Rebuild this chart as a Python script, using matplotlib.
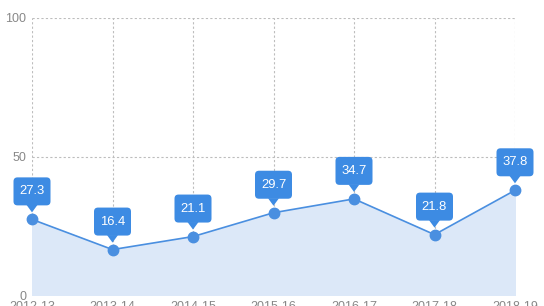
import matplotlib
matplotlib.use('Agg')
import matplotlib.pyplot as plt
from matplotlib.patches import FancyBboxPatch, Polygon
from matplotlib.transforms import ScaledTranslation

plt.rcParams['font.family'] = ['Liberation Sans', 'DejaVu Sans']

# data
years = ['2012-13', '2013-14', '2014-15', '2015-16', '2016-17', '2017-18', '2018-19']
values = [27.3, 16.4, 21.1, 29.7, 34.7, 21.8, 37.8]
y_ticks = [0, 50, 100]

line_color = '#4a8fe0'
box_color = '#3d8be3'
fill_color = '#dce8f8'
grid_color = '#bdbdbd'

fig = plt.figure(figsize=(5.44, 3.06), dpi=100)
ax = fig.add_axes([32/544, 11/306, (515-32)/544, (295-18)/306])

x = list(range(len(years)))
ax.fill_between(x, values, 0, color=fill_color, zorder=1)
ax.plot(x, values, color=line_color, lw=1.2, zorder=3, clip_on=False)
ax.plot(x, values, 'o', color=line_color, ms=7.5, zorder=4, clip_on=False)

# callouts: sizes in pixels (1 px = 0.01 inch at dpi 100)
bw, bh, gap, tip = 0.37, 0.28, 0.14, 0.07
for xi, v in zip(x, values):
    tr = fig.dpi_scale_trans + ScaledTranslation(xi, v, ax.transData)
    box = FancyBboxPatch((-bw/2 + 0.04, gap + 0.04), bw - 0.08, bh - 0.08,
                         boxstyle='round,pad=0.04', fc=box_color, ec='none',
                         transform=tr, zorder=6, clip_on=False)
    ax.add_patch(box)
    tri = Polygon([(-0.055, gap + 0.005), (0.055, gap + 0.005), (0, tip)],
                  closed=True, fc=box_color, ec='none', transform=tr,
                  zorder=6, clip_on=False)
    ax.add_patch(tri)
    ax.text(0, gap + bh/2, f'{v}', transform=tr, ha='center', va='center',
            color='white', fontsize=9.4, zorder=7, clip_on=False)

ax.set_xlim(0, len(years) - 1)
ax.set_ylim(0, 100)
ax.set_xticks(x)
ax.set_xticklabels(years)
ax.set_yticks(y_ticks)
ax.tick_params(length=0, labelsize=9, labelcolor='#888888')
ax.tick_params(axis='x', pad=4)
ax.tick_params(axis='y', pad=4)
ax.grid(True, color=grid_color, ls=(0, (2, 2)), lw=0.8, zorder=0)
ax.set_axisbelow(True)
for s in ax.spines.values():
    s.set_visible(False)

fig.savefig('out.png', dpi=100)
